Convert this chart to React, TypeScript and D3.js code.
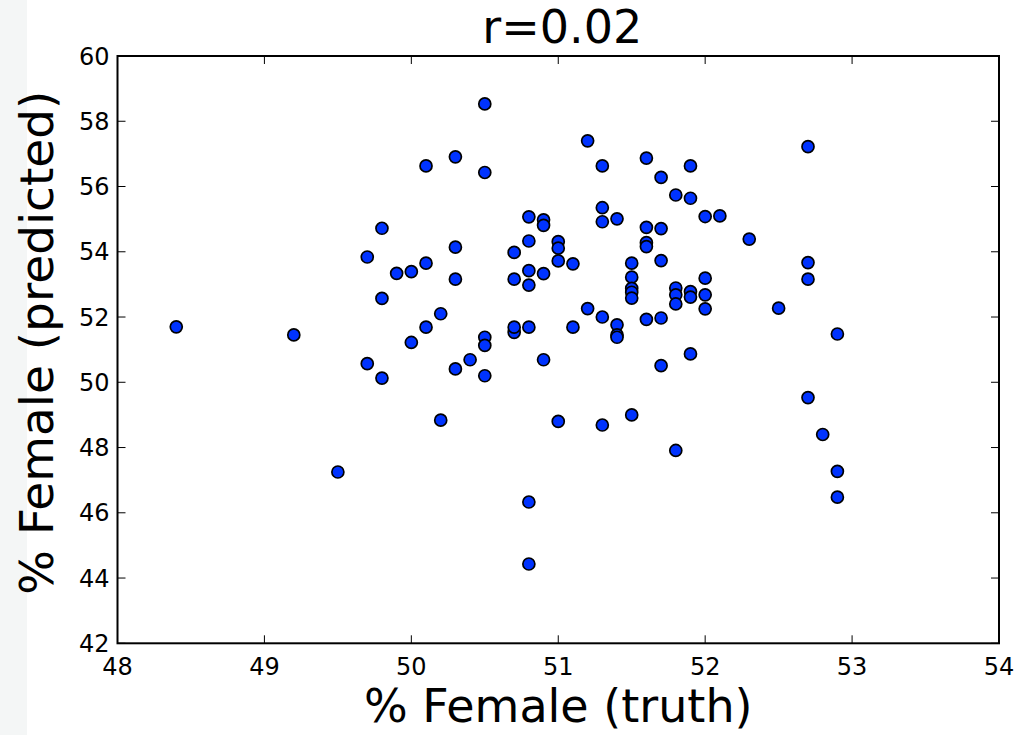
import React from "react";
import * as d3 from "d3";

const truth = [
  48.4, 49.2, 49.5, 49.7, 49.8, 49.8, 49.7, 49.9, 49.8, 50.0,
  50.1, 50.1, 50.3, 50.5, 50.5, 50.3, 50.3, 50.2, 50.1, 50.0,
  50.5, 50.5, 50.5, 50.3, 50.4, 50.2, 50.7, 50.7, 50.7, 50.7,
  50.8, 50.8, 50.8, 50.8, 50.8, 50.8, 50.8, 50.9, 50.9, 50.9,
  50.9, 51.0, 51.0, 51.0, 51.1, 51.1, 51.0, 51.2, 51.2, 51.3,
  51.3, 51.3, 51.3, 51.3, 51.4, 51.4, 51.4, 51.4, 51.5, 51.5,
  51.5, 51.5, 51.5, 51.5, 51.6, 51.6, 51.6, 51.6, 51.6, 51.7,
  51.7, 51.7, 51.7, 51.7, 51.8, 51.8, 51.8, 51.8, 51.8, 51.9,
  51.9, 51.9, 51.9, 51.9, 52.0, 52.1, 52.3, 52.7, 52.7, 52.7,
  52.0, 52.0, 52.0, 52.5, 52.9, 52.7, 52.8, 52.9, 52.9,
];

const predicted = [
  51.7, 51.45, 47.25, 50.57, 50.13, 54.72, 53.84, 53.34, 52.57, 53.39,
  53.65, 56.63, 56.91, 58.53, 56.43, 54.14, 53.16, 52.1, 51.69, 51.22,
  51.38, 51.13, 50.2, 50.41, 50.69, 48.84, 51.53, 51.69, 53.98, 53.16,
  55.07, 54.33, 53.42, 52.98, 51.69, 46.33, 44.43, 54.98, 54.81, 53.33,
  50.69, 54.31, 54.11, 53.72, 53.63, 51.69, 48.8, 57.4, 52.26, 56.63,
  55.35, 54.92, 52.0, 48.69, 55.01, 51.76, 51.45, 51.38, 49.0, 53.65,
  53.22, 52.88, 52.76, 52.58, 56.87, 54.75, 54.28, 54.16, 51.93, 56.28,
  54.71, 53.73, 51.97, 50.51, 55.74, 52.89, 52.68, 52.4, 47.91, 56.63,
  55.64, 52.78, 52.61, 50.87, 55.08, 55.1, 54.39, 57.22, 53.67, 53.16,
  53.19, 52.68, 52.25, 52.27, 51.48, 49.53, 48.4, 47.27, 46.48,
];

const xTicks = [48, 49, 50, 51, 52, 53, 54];
const yTicks = [42, 44, 46, 48, 50, 52, 54, 56, 58, 60];

const titleText = "r=0.02";
const xLabel = "% Female (truth)";
const yLabel = "% Female (predicted)";

export default function App() {
  const W = 1020;
  const H = 735;
  const left = 117.5;
  const right = 999;
  const top = 56;
  const bottom = 643.3;

  const x = d3.scaleLinear().domain([48, 54]).range([left, right]);
  const y = d3.scaleLinear().domain([42, 60]).range([bottom, top]);
  const font = "'DejaVu Sans', sans-serif";
  const tickLen = 8;

  const points = truth.map((t, i) => ({ t, p: predicted[i] }));

  return (
    <svg
      width={W}
      height={H}
      style={{ position: "absolute", left: 0, top: 0, display: "block" }}
      fontFamily={font}
    >
      <rect x={0} y={0} width={W} height={H} fill="#ffffff" />
      <rect x={0} y={0} width={27} height={H} fill="#f4f6f6" />

      {/* points */}
      <g>
        {points.map((d, i) => (
          <circle
            key={i}
            cx={x(d.t)}
            cy={y(d.p)}
            r={6}
            fill="#0033ff"
            stroke="#000"
            strokeWidth={1.7}
          />
        ))}
      </g>

      {/* ticks */}
      <g stroke="#000" strokeWidth={1}>
        {xTicks.map((v) => (
          <g key={"xt" + v}>
            <line x1={x(v)} x2={x(v)} y1={bottom} y2={bottom - tickLen} />
            <line x1={x(v)} x2={x(v)} y1={top} y2={top + tickLen} />
          </g>
        ))}
        {yTicks.map((v) => (
          <g key={"yt" + v}>
            <line x1={left} x2={left + tickLen} y1={y(v)} y2={y(v)} />
            <line x1={right} x2={right - tickLen} y1={y(v)} y2={y(v)} />
          </g>
        ))}
      </g>

      {/* frame */}
      <rect
        x={left}
        y={top}
        width={right - left}
        height={bottom - top}
        fill="none"
        stroke="#000"
        strokeWidth={2}
      />

      {/* tick labels */}
      <g fontSize={24} fill="#000">
        {xTicks.map((v) => (
          <text key={"xl" + v} x={x(v)} y={675} textAnchor="middle">
            {v}
          </text>
        ))}
        {yTicks.map((v) => (
          <text
            key={"yl" + v}
            x={left - 8}
            y={y(v) + 8.5}
            textAnchor="end"
          >
            {v}
          </text>
        ))}
      </g>

      {/* title */}
      <text x={(left + right) / 2 + 4} y={43} textAnchor="middle" fontSize={46} fill="#000">
        {titleText}
      </text>

      {/* axis labels */}
      <text x={(left + right) / 2} y={722} textAnchor="middle" fontSize={46} fill="#000">
        {xLabel}
      </text>
      <text
        transform={`translate(53, ${(top + bottom) / 2 - 7}) rotate(-90)`}
        textAnchor="middle"
        fontSize={47}
        fill="#000"
      >
        {yLabel}
      </text>
    </svg>
  );
}
